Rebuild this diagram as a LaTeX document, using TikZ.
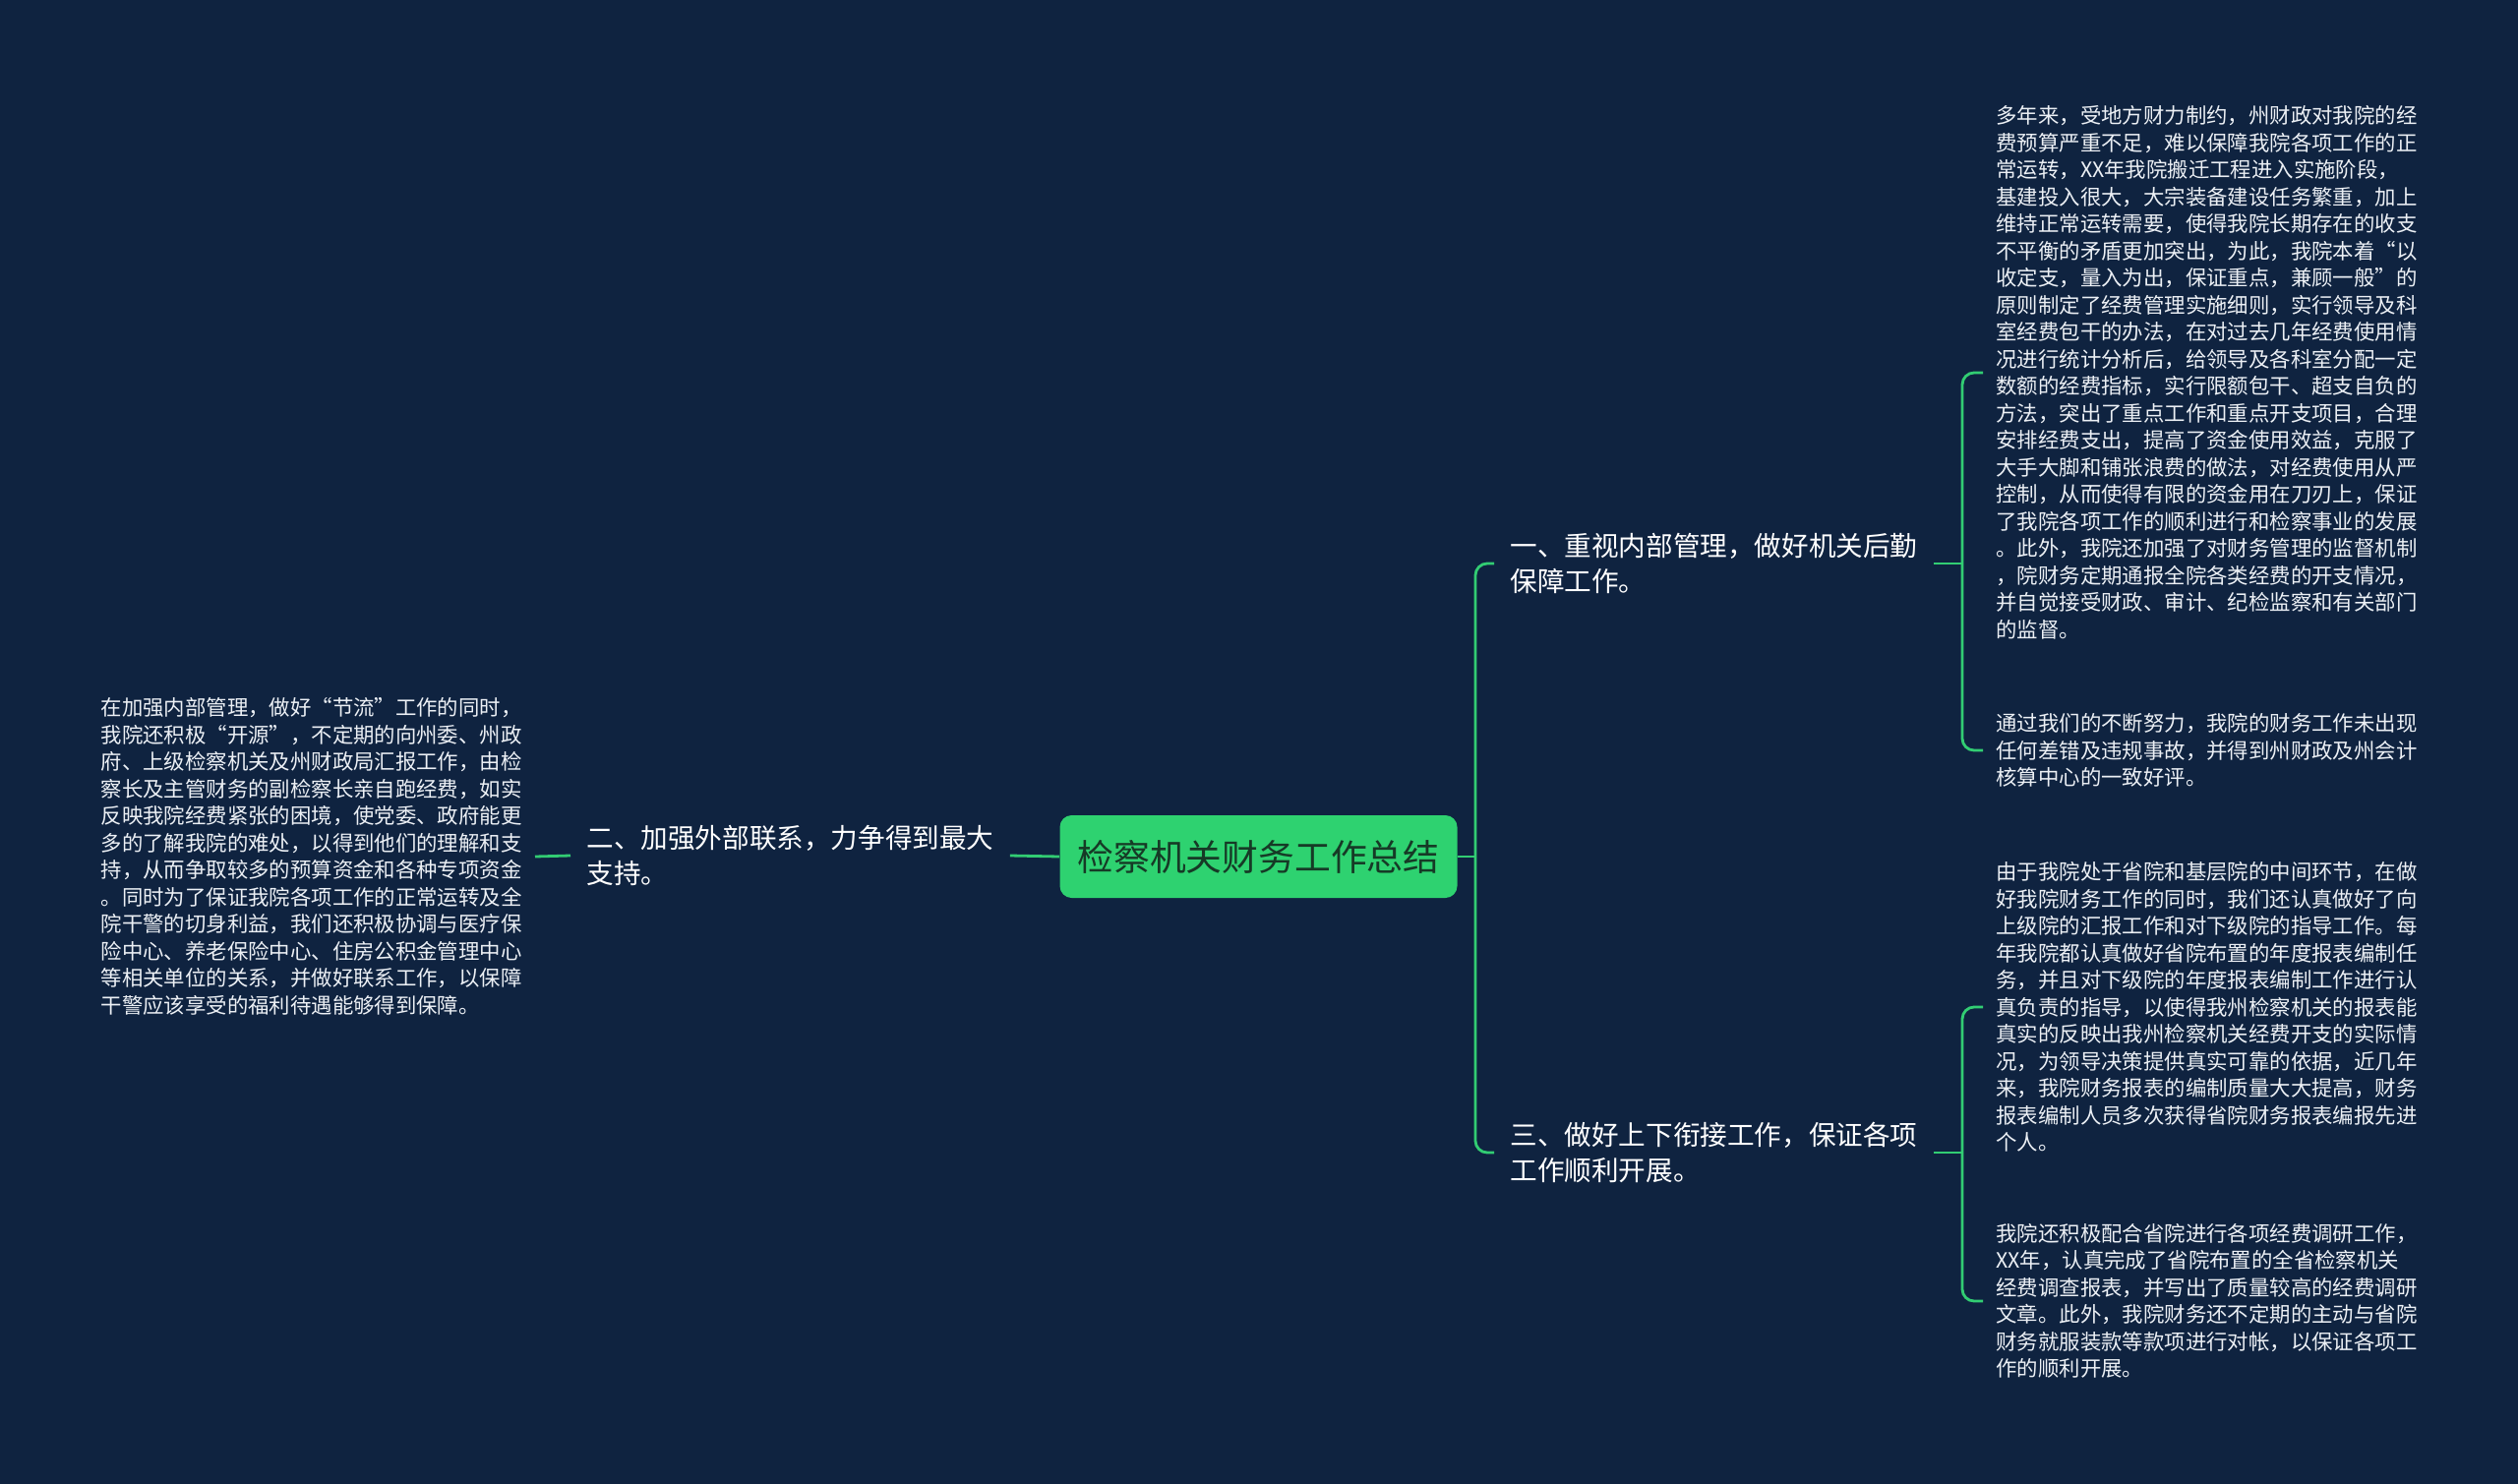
\documentclass[tikz,border=0pt]{standalone}
\usepackage{fontspec}
\setmainfont{Noto Sans CJK SC}
\usepackage{tikz}
\usetikzlibrary{positioning}

\definecolor{bgnavy}{RGB}{15,35,64}
\definecolor{mapgreen}{RGB}{50,205,115}
\definecolor{rootfill}{RGB}{46,210,112}
\definecolor{roottext}{RGB}{22,58,38}
\definecolor{leaftext}{RGB}{236,240,245}

\begin{document}
\begin{tikzpicture}[x=0.5pt, y=-0.5pt,
        root/.style={rectangle, rounded corners=6pt, fill=rootfill, text=roottext,
          font=\fontsize{18.4}{22}\selectfont, minimum height=42pt, inner xsep=9pt},
        branch/.style={align=left, text=white, inner xsep=8pt,
          font=\fontsize{13.8}{18}\selectfont},
        leaf/.style={align=left, text=leaftext, inner xsep=6.5pt,
          font=\fontsize{10.7}{13.75}\selectfont},
        link/.style={draw=mapgreen, line width=1.4pt},
        elbow/.style={link, rounded corners=6pt}]

        % Background and page size
        \fill[bgnavy] (0,0) rectangle (2560,1509);
        \useasboundingbox (0,0) rectangle (2560,1509);

        % Define the root
        \node[root] (root) at (1279.5,871) {检察机关财务工作总结};

        % Branches
        \node[branch, anchor=west] (one) at (1519,573) {一、重视内部管理，做好机关后勤\\保障工作。};
        \node[branch, anchor=west] (two) at (580,870) {二、加强外部联系，力争得到最大\\支持。};
        \node[branch, anchor=west] (three) at (1519,1172) {三、做好上下衔接工作，保证各项\\工作顺利开展。};

        % Leaves of the first branch
        \node[leaf, anchor=west] (one-a) at (2016,379) {多年来，受地方财力制约，州财政对我院的经\\
          费预算严重不足，难以保障我院各项工作的正\\
          常运转，XX年我院搬迁工程进入实施阶段，\\
          基建投入很大，大宗装备建设任务繁重，加上\\
          维持正常运转需要，使得我院长期存在的收支\\
          不平衡的矛盾更加突出，为此，我院本着“以\\
          收定支，量入为出，保证重点，兼顾一般”的\\
          原则制定了经费管理实施细则，实行领导及科\\
          室经费包干的办法，在对过去几年经费使用情\\
          况进行统计分析后，给领导及各科室分配一定\\
          数额的经费指标，实行限额包干、超支自负的\\
          方法，突出了重点工作和重点开支项目，合理\\
          安排经费支出，提高了资金使用效益，克服了\\
          大手大脚和铺张浪费的做法，对经费使用从严\\
          控制，从而使得有限的资金用在刀刃上，保证\\
          了我院各项工作的顺利进行和检察事业的发展\\
          。此外，我院还加强了对财务管理的监督机制\\
          ，院财务定期通报全院各类经费的开支情况，\\
          并自觉接受财政、审计、纪检监察和有关部门\\
          的监督。};
        \node[leaf, anchor=west] (one-b) at (2016,763) {通过我们的不断努力，我院的财务工作未出现\\
          任何差错及违规事故，并得到州财政及州会计\\
          核算中心的一致好评。};

        % Leaf of the second branch
        \node[leaf, anchor=east] (two-a) at (544,871) {在加强内部管理，做好“节流”工作的同时，\\
          我院还积极“开源”，不定期的向州委、州政\\
          府、上级检察机关及州财政局汇报工作，由检\\
          察长及主管财务的副检察长亲自跑经费，如实\\
          反映我院经费紧张的困境，使党委、政府能更\\
          多的了解我院的难处，以得到他们的理解和支\\
          持，从而争取较多的预算资金和各种专项资金\\
          。同时为了保证我院各项工作的正常运转及全\\
          院干警的切身利益，我们还积极协调与医疗保\\
          险中心、养老保险中心、住房公积金管理中心\\
          等相关单位的关系，并做好联系工作，以保障\\
          干警应该享受的福利待遇能够得到保障。};

        % Leaves of the third branch
        \node[leaf, anchor=west] (three-a) at (2016,1024) {由于我院处于省院和基层院的中间环节，在做\\
          好我院财务工作的同时，我们还认真做好了向\\
          上级院的汇报工作和对下级院的指导工作。每\\
          年我院都认真做好省院布置的年度报表编制任\\
          务，并且对下级院的年度报表编制工作进行认\\
          真负责的指导，以使得我州检察机关的报表能\\
          真实的反映出我州检察机关经费开支的实际情\\
          况，为领导决策提供真实可靠的依据，近几年\\
          来，我院财务报表的编制质量大大提高，财务\\
          报表编制人员多次获得省院财务报表编报先进\\
          个人。};
        \node[leaf, anchor=west] (three-b) at (2016,1323) {我院还积极配合省院进行各项经费调研工作，\\
          XX年，认真完成了省院布置的全省检察机关\\
          经费调查报表，并写出了质量较高的经费调研\\
          文章。此外，我院财务还不定期的主动与省院\\
          财务就服装款等款项进行对帐，以保证各项工\\
          作的顺利开展。};

        % Junctions
        \coordinate (hub) at (1500,871);
        \coordinate (fork-one) at (1995,573);
        \coordinate (fork-three) at (1995,1172);

        % Connectors
        \draw[link] (root.east) -- (hub);
        \foreach \b in {one,three} {
          \draw[elbow] (hub) |- (\b.west);
        }
        \draw[link] (root.west) -- (two.east);
        \draw[link] (two.west) -- (two-a.east);

        \draw[link] (one.east) -- (fork-one);
        \foreach \l in {one-a,one-b} {
          \draw[elbow] (fork-one) |- (\l.west);
        }
        \draw[link] (three.east) -- (fork-three);
        \foreach \l in {three-a,three-b} {
          \draw[elbow] (fork-three) |- (\l.west);
        }
    \end{tikzpicture}
\end{document}
